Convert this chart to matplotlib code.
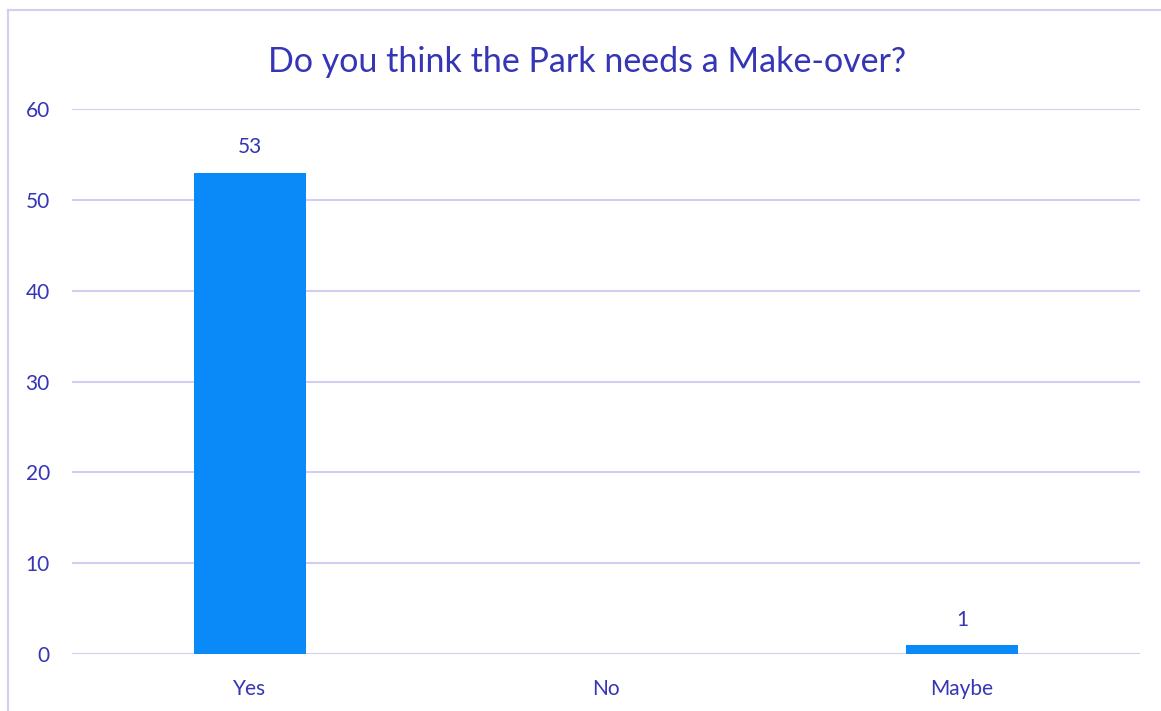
import matplotlib
matplotlib.use("Agg")
import matplotlib.pyplot as plt
from matplotlib.lines import Line2D

categories = ["Yes", "No", "Maybe"]
counts = [53, 0, 1]
y_ticks = [0, 10, 20, 30, 40, 50, 60]

text_color = "#3535B5"
bar_color = "#0A8AF8"
grid_color = "#CFCFF4"

plt.rcParams["font.family"] = ["Lato", "DejaVu Sans"]

fig = plt.figure(figsize=(11.61, 7.11), dpi=100)
W, H = 1161, 711
ax = fig.add_axes([72 / W, 1 - 654 / H, (1140 - 72) / W, (654 - 109) / H])

x = list(range(len(categories)))
bars = ax.bar(x, counts, width=0.315, color=bar_color, zorder=3)
for xi, v in zip(x, counts):
    if v > 0:
        ax.annotate(str(v), (xi, v), xytext=(0, 11), textcoords="offset points",
                    ha="center", va="bottom", fontsize=15, color=text_color)

ax.set_xlim(-0.5, 2.5)
ax.set_ylim(0, 60)
ax.set_yticks(y_ticks)
ax.set_xticks(x)
ax.set_xticklabels(categories)
ax.tick_params(axis="both", length=0, labelsize=15, labelcolor=text_color)
ax.tick_params(axis="y", pad=16)
ax.tick_params(axis="x", pad=18)
ax.grid(axis="y", color=grid_color, linewidth=1.5, zorder=0)
for s in ax.spines.values():
    s.set_visible(False)

fig.text(587 / W, 1 - 62 / H, "Do you think the Park needs a Make-over?",
         ha="center", va="center", fontsize=24.5, color=text_color)

# chart border (top and left edges only visible)
fig.add_artist(Line2D([8 / W, 1], [1 - 10 / H, 1 - 10 / H], color=grid_color, linewidth=1.5))
fig.add_artist(Line2D([8 / W, 8 / W], [0, 1 - 10 / H], color=grid_color, linewidth=1.5))

fig.savefig("out.png", dpi=100)
